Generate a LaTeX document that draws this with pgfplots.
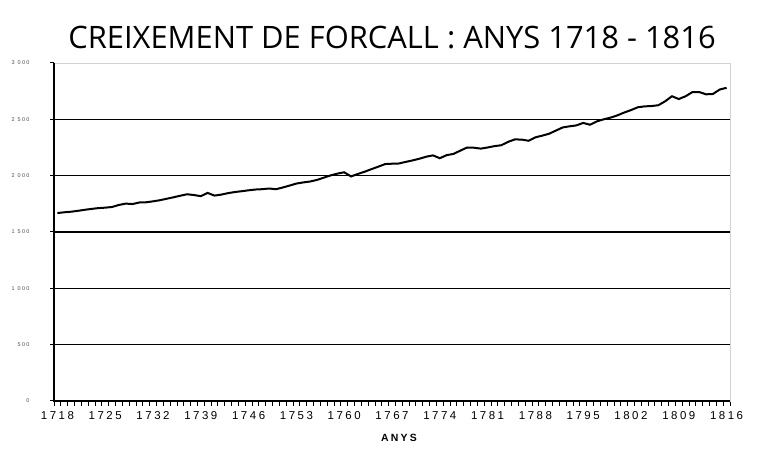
\documentclass[border=0pt]{standalone}
\usepackage{fontspec}
\setmainfont{Liberation Sans}
\newfontfamily\titlefont{Open Sans}
\newfontfamily\spacedfont[LetterSpace=22]{Liberation Sans}
\newfontfamily\tinyfont[LetterSpace=25]{Liberation Sans}
\usepackage{pgfplots}
\pgfplotsset{compat=1.18}
\pgfplotstableread{
year pop
1718 1668
1719 1675
1720 1680
1721 1688
1722 1697
1723 1705
1724 1712
1725 1716
1726 1722
1727 1740
1728 1752
1729 1748
1730 1762
1731 1764
1732 1772
1733 1782
1734 1795
1735 1808
1736 1822
1737 1835
1738 1828
1739 1818
1740 1847
1741 1823
1742 1832
1743 1845
1744 1855
1745 1862
1746 1870
1747 1877
1748 1880
1749 1886
1750 1880
1751 1895
1752 1912
1753 1930
1754 1940
1755 1948
1756 1962
1757 1982
1758 2002
1759 2018
1760 2030
1761 1993
1762 2015
1763 2035
1764 2058
1765 2080
1766 2103
1767 2106
1768 2108
1769 2122
1770 2135
1771 2150
1772 2168
1773 2180
1774 2155
1775 2182
1776 2193
1777 2222
1778 2250
1779 2248
1780 2240
1781 2250
1782 2262
1783 2270
1784 2300
1785 2322
1786 2320
1787 2310
1788 2340
1789 2355
1790 2372
1791 2400
1792 2428
1793 2438
1794 2446
1795 2468
1796 2452
1797 2482
1798 2500
1799 2515
1800 2535
1801 2560
1802 2582
1803 2607
1804 2615
1805 2618
1806 2625
1807 2660
1808 2705
1809 2680
1810 2705
1811 2742
1812 2742
1813 2722
1814 2725
1815 2765
1816 2780
}\datatable
\begin{document}
\begin{tikzpicture}
\path[use as bounding box] (0,0) rectangle (759bp,452bp);
\begin{axis}[
  at={(54bp,51bp)}, anchor=south west,
  scale only axis, width=676bp, height=338bp,
  xmin=1717.5, xmax=1816.5, ymin=0, ymax=3000,
  axis line style={draw=gray!35, line width=0.6bp},
  xtick={1718,1725,...,1816},
  minor xtick={1717.5,1718.5,...,1816.6},
  xticklabels={1718,1725,1732,1739,1746,1753,1760,1767,1774,1781,1788,1795,1802,1809,1816},
  ytick={0,500,...,3000},
  yticklabels={0,500,1 000,1 500,2 000,2 500,3 000},
  extra y ticks={500,1000,1500,2000,2500},
  extra y tick labels={},
  extra y tick style={grid=major, major tick length=0pt},
  grid style={black, line width=1.1bp},
  tick align=outside,
  xtick pos=bottom, ytick pos=left,
  major x tick style={draw=none},
  minor x tick style={black, line width=0.8bp},
  minor tick length=5bp,
  major y tick style={black, line width=1bp},
  major tick length=4bp,
  /pgf/number format/assume math mode=true,
  xticklabel style={font=\spacedfont\fontsize{11.5}{12}\selectfont, yshift=-3bp},
  yticklabel style={font=\tinyfont\fontsize{5.5}{6}\selectfont, text=black!70, xshift=-17bp},
  clip=false,
]
\addplot[black, line width=2bp] table[x=year, y=pop] {\datatable};
\draw[black, line width=1.8bp] (rel axis cs:0,1) -- (rel axis cs:0,0) -- (rel axis cs:1,0);
\end{axis}
\node[font=\titlefont\fontsize{31}{34}\selectfont, anchor=center] at (392bp,414bp) {CREIXEMENT DE FORCALL : ANYS 1718 - 1816};
\node[font=\bfseries\spacedfont\fontsize{10.5}{12}\selectfont, anchor=center] at (399bp,14bp) {ANYS};
\end{tikzpicture}
\end{document}
